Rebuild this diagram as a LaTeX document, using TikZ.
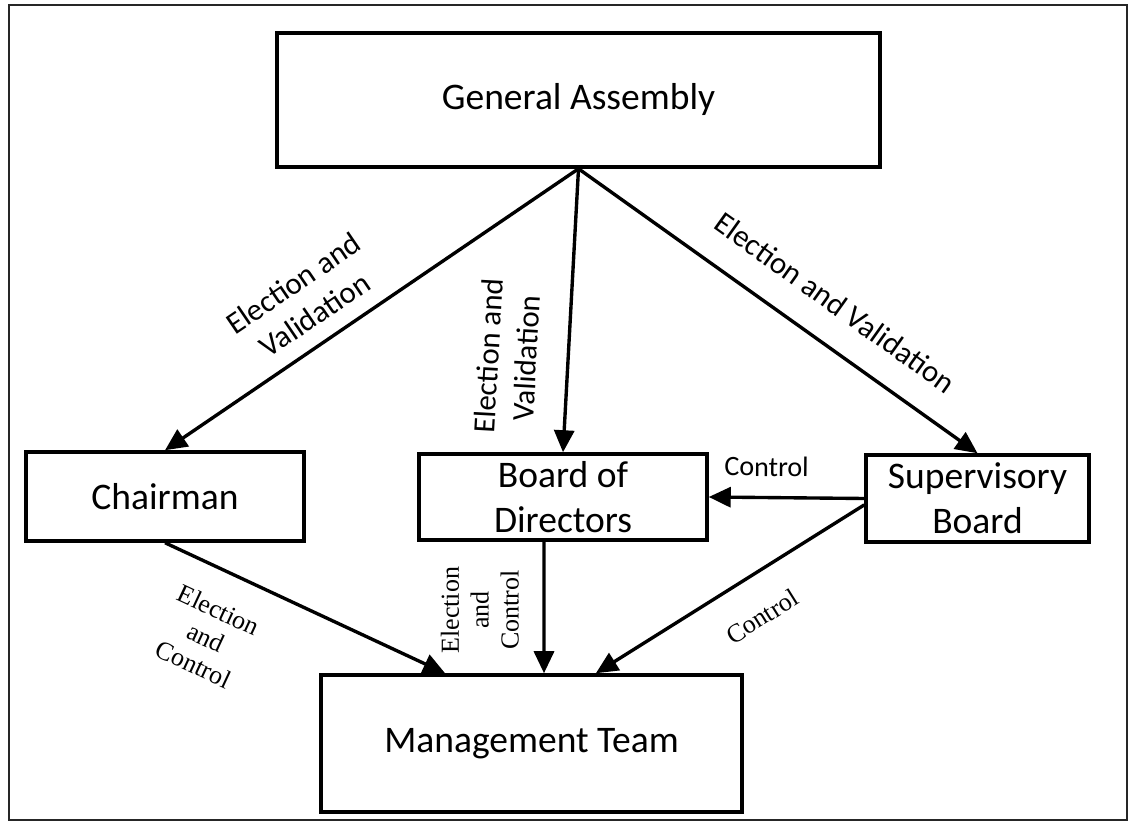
\documentclass[tikz,border=0pt]{standalone}
\usepackage{fontspec}
\setmainfont{Carlito}
\newfontfamily\labserif{Liberation Serif}
\usetikzlibrary{arrows.meta}

\begin{document}
\begin{tikzpicture}[
		box/.style={draw, line width=2.5pt, align=center, inner sep=0pt, font=\fontsize{26.7}{32}\selectfont},
		link/.style={line width=2.4pt, -{Triangle[length=5.5mm, width=5mm]}},
		lab/.style={align=center, inner sep=1pt, font=\fontsize{22}{27}\selectfont},
		tlab/.style={align=center, inner sep=1pt, font=\labserif\fontsize{18.5}{21.3}\selectfont}
	]
	\useasboundingbox (0,0) rectangle (28.275,20.525);
	\draw[line width=1.5pt, black!85] (0.225,0.025) rectangle (28.175,20.4);

	% boxes
	\node[box, minimum width=15.075cm, minimum height=3.35cm] (ga) at (14.4625,18.025) {General Assembly};
	\node[box, minimum width=6.95cm, minimum height=2.225cm] (ch) at (4.125,8.1125) {Chairman};
	\node[box, minimum width=7.2cm, minimum height=2.15cm] (bod) at (14.075,8.1) {Board of\\Directors};
	\node[box, minimum width=5.575cm, minimum height=2.175cm] (sb) at (24.4375,8.0625) {Supervisory\\Board};
	\node[box, minimum width=10.525cm, minimum height=3.425cm] (mt) at (13.2875,1.9375) {Management Team};

	% election and validation
	\draw[link] (ga.south) -- (ch.north) node[sloped, above=3.5mm, pos=0.6, lab] {Election and\\Validation};
	\draw[link] (ga.south) -- (bod.north) node[sloped, above=7mm, pos=0.675, lab] {Election and\\Validation};
	\draw[link] (ga.south) -- (sb.north) node[sloped, above=6.5mm, pos=0.585, lab] {Election and Validation};

	% control
	\draw[link] (ch.south) -- ([xshift=-2.16cm]mt.north) node[sloped, below=6.5mm, pos=0.25, tlab] {Election\\and\\Control};
	\draw[link] ([xshift=-4.75mm]bod.south) -- ([xshift=3.125mm]mt.north) node[rotate=90, above=5.5mm, pos=0.52, tlab] {Election\\and\\Control};
	\draw[link] (sb.west) -- (bod.east) node[sloped, above=4.5mm, pos=0.63, lab, font=\fontsize{20}{24}\selectfont] {Control};
	\draw[link] ([yshift=-1.6mm]sb.west) -- ([xshift=1.61cm]mt.north) node[sloped, below=7mm, pos=0.46, tlab] {Control};
\end{tikzpicture}
\end{document}
